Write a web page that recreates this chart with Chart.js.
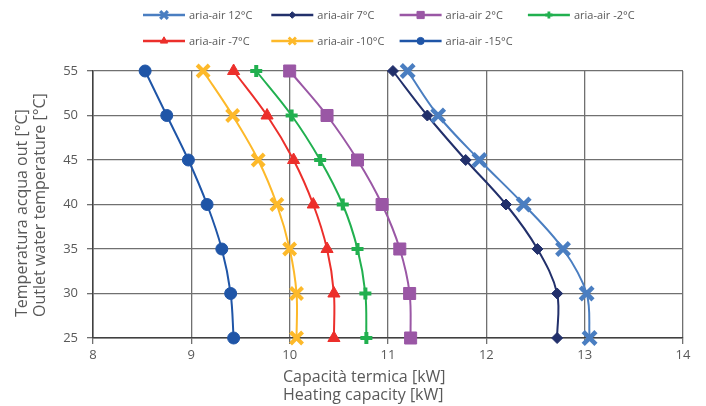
<!DOCTYPE html>
<html>
<head>
<meta charset="utf-8">
<script src="https://cdn.jsdelivr.net/npm/chart.js@4.4.1/dist/chart.umd.min.js"></script>
<style>
  html, body { margin: 0; padding: 0; background: #fff; }
  #wrap { width: 706px; height: 406px; }
</style>
</head>
<body>
<div id="wrap"><canvas id="chart" width="706" height="406"></canvas></div>
<script>
// Outlet water temperature (y) and heating capacity (x) per air temperature
const temps = [55, 50, 45, 40, 35, 30, 25];
const cap12 = [11.20, 11.51, 11.93, 12.38, 12.78, 13.02, 13.05];
const cap7 = [11.05, 11.40, 11.79, 12.20, 12.52, 12.72, 12.72];
const cap2 = [10.00, 10.38, 10.69, 10.94, 11.12, 11.22, 11.23];
const capM2 = [9.66, 10.02, 10.31, 10.54, 10.69, 10.77, 10.78];
const capM7 = [9.43, 9.77, 10.04, 10.24, 10.38, 10.45, 10.45];
const capM10 = [9.12, 9.42, 9.68, 9.87, 10.00, 10.07, 10.07];
const capM15 = [8.53, 8.75, 8.97, 9.16, 9.31, 9.40, 9.43];

const seriesLabels = ['aria-air 12°C', 'aria-air 7°C', 'aria-air 2°C', 'aria-air -2°C',
                      'aria-air -7°C', 'aria-air -10°C', 'aria-air -15°C'];
const xTitle = ['Capacità termica [kW]', 'Heating capacity [kW]'];
const yTitle = ['Temperatura acqua out [°C]', 'Outlet water temperature [°C]'];

const FONT = '"Open Sans", "Noto Sans", sans-serif';
const TEXT = '#595959';

function points(caps) {
    return caps.map((c, i) => ({ x: c, y: temps[i] }));
}

function series(label, caps, color, style, radius, bw) {
    return {
        label: label,
        data: points(caps),
        borderColor: color,
        backgroundColor: color,
        borderWidth: 2,
        showLine: true,
        tension: 0.35,
        clip: false,
        pointStyle: style,
        pointRadius: radius,
        pointHoverRadius: radius,
        pointBorderWidth: bw,
        pointBackgroundColor: color,
        pointBorderColor: color
    };
}

// legend drawn in a fixed grid, line with marker in the middle like the original
const gridLegend = {
    id: 'gridLegend',
    afterDraw(chart) {
        const ctx = chart.ctx;
        chart.data.datasets.forEach((ds, i) => {
            const col = i % 4, row = Math.floor(i / 4);
            const x0 = 143 + col * 128.3, y = 15 + row * 26;
            ctx.save();
            ctx.strokeStyle = ds.borderColor;
            ctx.lineWidth = 2.5;
            ctx.beginPath();
            ctx.moveTo(x0, y);
            ctx.lineTo(x0 + 42, y);
            ctx.stroke();
            ctx.fillStyle = ds.borderColor;
            ctx.lineWidth = Math.max(1, ds.pointBorderWidth * 0.7);
            if (Chart.helpers && Chart.helpers.drawPoint) {
                Chart.helpers.drawPoint(ctx, {
                    pointStyle: ds.pointStyle,
                    radius: ds.pointRadius * 0.6,
                    borderWidth: ctx.lineWidth,
                    rotation: 0
                }, x0 + 21, y);
            }
            ctx.fillStyle = TEXT;
            ctx.font = '11px ' + FONT;
            ctx.textBaseline = 'middle';
            ctx.textAlign = 'left';
            ctx.fillText(ds.label, x0 + 46, y + 0.5);
            ctx.restore();
        });
    }
};

// axis titles are left-aligned two-line blocks in the original
const axisTitles = {
    id: 'axisTitles',
    afterDraw(chart) {
        const ctx = chart.ctx;
        ctx.save();
        ctx.fillStyle = TEXT;
        ctx.font = '16px ' + FONT;
        ctx.textBaseline = 'middle';
        ctx.textAlign = 'left';
        xTitle.forEach((t, i) => ctx.fillText(t, 283, 377 + i * 18));
        ctx.translate(0, 317);
        ctx.rotate(-Math.PI / 2);
        yTitle.forEach((t, i) => ctx.fillText(t, 0, 22 + i * 18.5));
        ctx.restore();
    }
};

const ctx = document.getElementById('chart').getContext('2d');
new Chart(ctx, {
    type: 'scatter',
    data: {
        datasets: [
            series(seriesLabels[0], cap12, '#4a7ec1', 'crossRot', 9, 4.5),
            series(seriesLabels[1], cap7, '#22306b', 'rectRot', 5.5, 1),
            series(seriesLabels[2], cap2, '#9a57a5', 'rect', 8.5, 1),
            series(seriesLabels[3], capM2, '#21b04f', 'cross', 6, 4),
            series(seriesLabels[4], capM7, '#ec2f2b', 'triangle', 7, 1),
            series(seriesLabels[5], capM10, '#fdb92a', 'crossRot', 8.5, 4),
            series(seriesLabels[6], capM15, '#1f55a7', 'circle', 6, 1)
        ]
    },
    options: {
        responsive: false,
        animation: false,
        layout: { padding: { top: 71, right: 23, left: 0, bottom: 0 } },
        plugins: {
            legend: { display: false },
            tooltip: { enabled: false }
        },
        scales: {
            x: {
                type: 'linear',
                min: 8,
                max: 14,
                ticks: { stepSize: 1, color: TEXT, font: { family: FONT, size: 13 }, padding: 3 },
                grid: { color: '#707070', lineWidth: 1.3, tickLength: 6 },
                border: { color: '#404040', width: 1.5 },
                afterFit(scale) { scale.height = 68; }
            },
            y: {
                type: 'linear',
                min: 25,
                max: 55,
                ticks: { stepSize: 5, color: TEXT, font: { family: FONT, size: 13 }, padding: 9 },
                grid: { color: '#707070', lineWidth: 1.3, tickLength: 6 },
                border: { color: '#404040', width: 1.5 },
                afterFit(scale) { scale.width = 93; }
            }
        }
    },
    plugins: [gridLegend, axisTitles]
});
</script>
</body>
</html>
